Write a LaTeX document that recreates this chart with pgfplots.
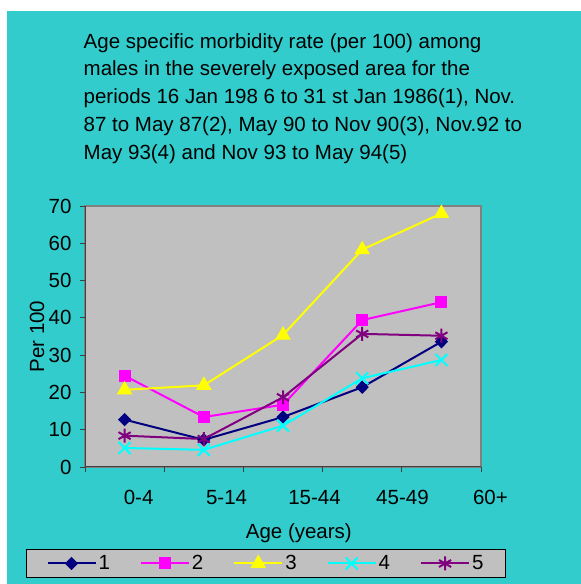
\documentclass[border=0pt]{standalone}
\usepackage{fontspec}
\setmainfont{Liberation Sans}
\usepackage{pgfplots}
\pgfplotsset{compat=1.18}
\usepackage{pgfplotstable}

\definecolor{bgteal}{HTML}{33CCCC}
\definecolor{plotgray}{HTML}{C0C0C0}
\definecolor{sone}{HTML}{000080}
\definecolor{stwo}{HTML}{FF00FF}
\definecolor{sthree}{HTML}{FFFF00}
\definecolor{sfour}{HTML}{00FFFF}
\definecolor{sfive}{HTML}{800080}

% age groups 0-4, 5-14, 15-44, 45-49, 60+ at x = 0..4
\pgfplotstableread{
x  p1    p2    p3    p4    p5
0  12.7  24.5  20.7  5.1   8.4
1  7.3   13.4  21.9  4.6   7.5
2  13.4  16.7  35.4  11.1  18.7
3  21.4  39.4  58.3  23.8  35.7
4  33.6  44.2  68.0  28.7  35.2
}\rates

\newcommand{\chartfont}{\fontsize{20.5bp}{24bp}\selectfont}

\begin{document}
\begin{tikzpicture}[x=1bp,y=1bp]
\fill[white] (0,0) rectangle (581,584);
\fill[bgteal] (7,0) rectangle (581,573);

\node[anchor=base west,inner sep=0,font=\chartfont] at (83.5,535.7) {Age specific morbidity rate (per 100) among};
\node[anchor=base west,inner sep=0,font=\chartfont] at (83.5,508.0) {males in the severely exposed area for the};
\node[anchor=base west,inner sep=0,font=\chartfont] at (83.5,480.3) {periods 16 Jan 198 6 to 31 st Jan 1986(1), Nov.};
\node[anchor=base west,inner sep=0,font=\chartfont] at (83.5,452.6) {87 to May 87(2), May 90 to Nov 90(3), Nov.92 to};
\node[anchor=base west,inner sep=0,font=\chartfont] at (83.5,424.9) {May 93(4) and Nov 93 to May 94(5)};

\begin{axis}[
  at={(85bp,117bp)}, anchor=south west,
  scale only axis, width=396bp, height=261bp,
  xmin=-0.5, xmax=4.5, ymin=0, ymax=70,
  ytick={0,10,...,70},
  xtick={0,...,4},
  % labels sit a little right of their groups, as in the original
  xticklabel={\pgfmathsetlengthmacro\lshift{2*(14+8.75*\ticknum)*1bp}\hspace*{\lshift}\ifcase\ticknum\relax 0-4\or 5-14\or 15-44\or 45-49\or 60+\fi},
  minor xtick={-0.5,0.5,1.5,2.5,3.5,4.5},
  major x tick style={draw=none},
  tick align=outside,
  major tick length=5bp, minor tick length=5bp,
  tick style={black!75, line width=0.8bp},
  axis x line*=bottom, axis y line*=left,
  axis line style={-, black!75, line width=1bp},
  axis background/.style={fill=plotgray, draw=gray, line width=1.2bp},
  tick label style={font=\chartfont},
  /pgf/number format/assume math mode=true,
  xticklabel style={yshift=-15bp},
  yticklabel style={xshift=-5bp},
  label style={font=\chartfont},
  xlabel={Age (years)},
  ylabel={Per 100},
  xlabel style={at={(axis description cs:0.54,-0.253)}, anchor=center},
  ylabel style={at={(axis description cs:-0.121,0.5)}, anchor=center},
  every axis plot/.append style={line width=2bp},
  legend columns=5,
  legend image code/.code={
    \draw[mark repeat=2, mark phase=2] plot coordinates {(0bp,0bp) (24bp,0bp) (48bp,0bp)};
  },
  legend style={
    at={(axis description cs:0.457,-0.3697)}, anchor=center,
    draw=black, fill=plotgray, line width=0.8bp,
    font=\chartfont,
    inner xsep=20bp, inner ysep=4bp,
    /tikz/every even column/.append style={column sep=28bp},
  },
]
\addplot[color=sone, mark=diamond*, mark size=6bp, mark options={fill=sone, line width=1bp, xscale=1.3}] table[x=x,y=p1] {\rates};
\addplot[color=stwo, mark=square*, mark size=5.5bp, mark options={fill=stwo, line width=1bp}] table[x=x,y=p2] {\rates};
\addplot[color=sthree, mark=triangle*, mark size=8bp, mark options={fill=sthree, line width=1bp}] table[x=x,y=p3] {\rates};
\addplot[color=sfour, mark=x, mark size=8.5bp, mark options={line width=2bp}] table[x=x,y=p4] {\rates};
\addplot[color=sfive, mark=asterisk, mark size=7bp, mark options={line width=2bp}] table[x=x,y=p5] {\rates};
\legend{1,2,3,4,5}
\end{axis}
\end{tikzpicture}
\end{document}
